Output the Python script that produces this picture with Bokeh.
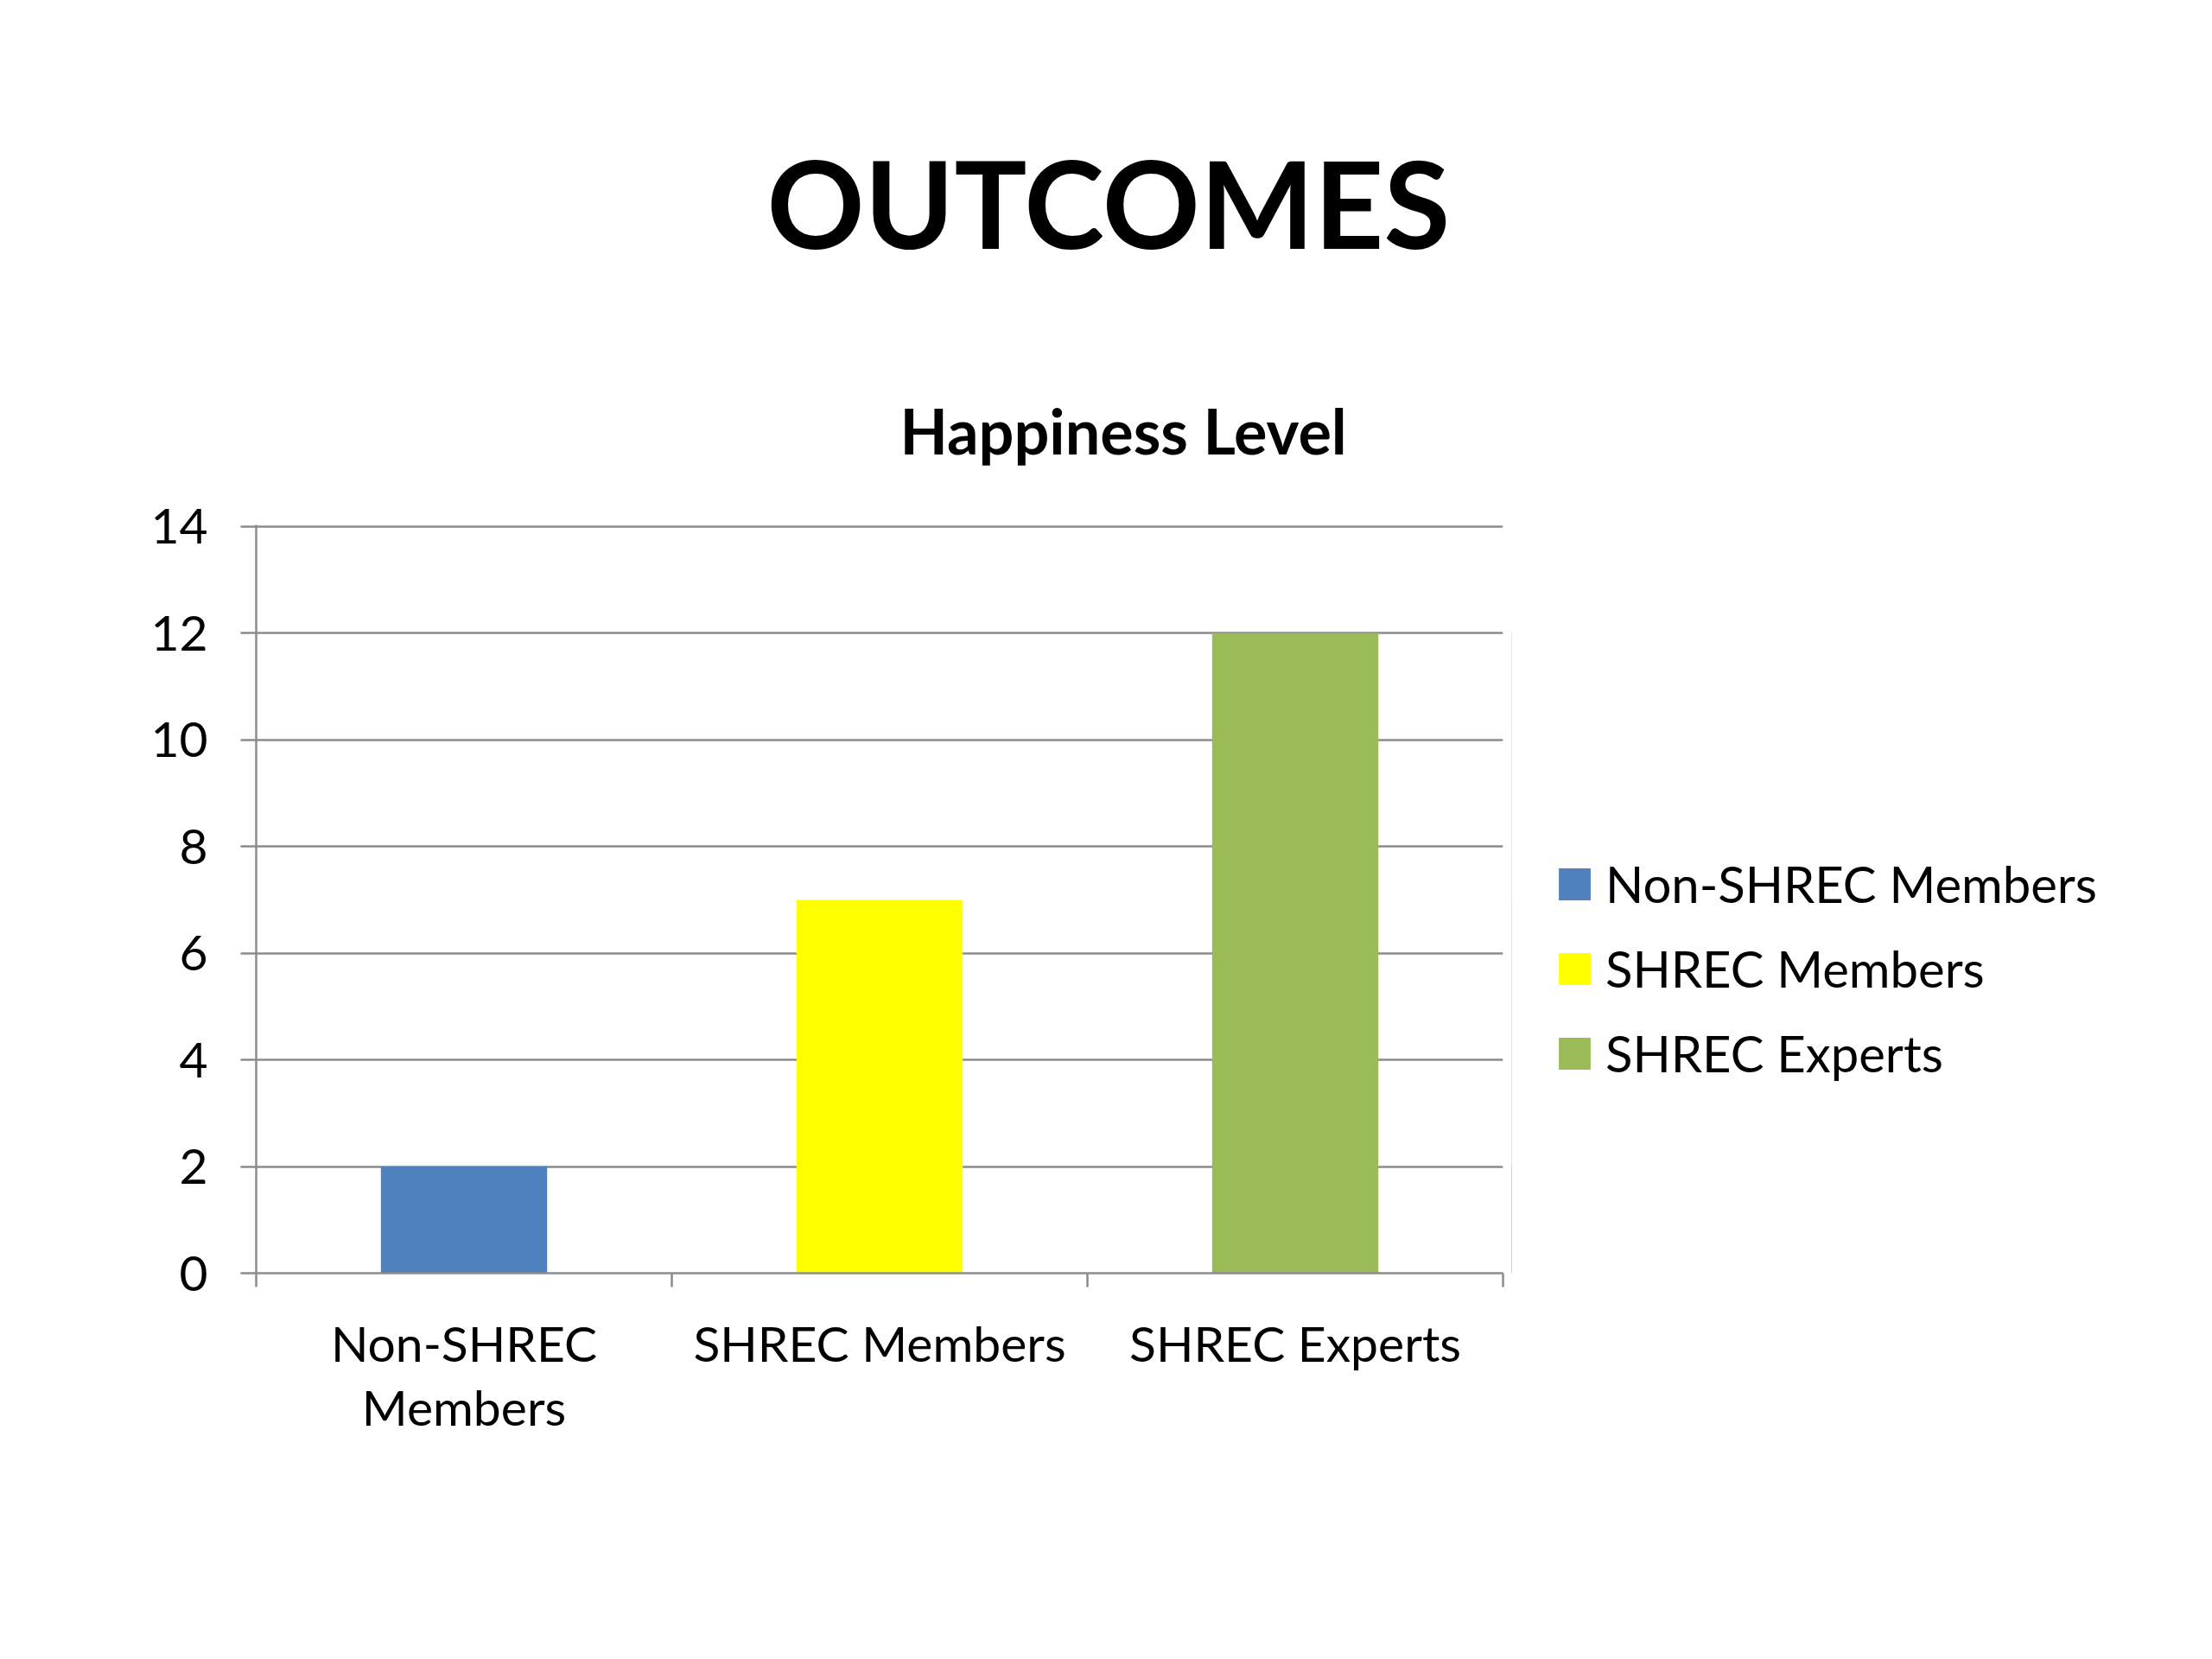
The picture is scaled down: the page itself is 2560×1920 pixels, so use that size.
from bokeh.plotting import figure
from bokeh.layouts import row
from bokeh.models import (ColumnDataSource, Range1d, LinearAxis, FixedTicker, Title)
from bokeh.embed import file_html
from bokeh.resources import INLINE

title_text = "OUTCOMES"
subtitle_text = "Happiness Level"
categories = ["Non-SHREC Members", "SHREC Members", "SHREC Experts"]
category_labels = ["Non-SHREC\nMembers", "SHREC Members", "SHREC Experts"]
happiness = [2, 7, 12]
bar_colors = ["#4F81BD", "#FFFF00", "#9BBB59"]
y_ticks = [0, 2, 4, 6, 8, 10, 12, 14]

FONT = "Lato"
GRID = "#8C8C8C"

n = len(categories)
centers = [i + 0.5 for i in range(n)]
boundaries = list(range(n + 1))

src = ColumnDataSource(dict(x=centers, cat=categories, val=happiness, color=bar_colors))

p = figure(width=1749, height=1904, output_backend="svg", toolbar_location=None,
           x_range=Range1d(0, n), y_range=Range1d(0, 14.03),
           x_axis_location=None, y_axis_location=None,
           min_border_left=296, min_border_right=10, min_border_top=607, min_border_bottom=431)
p.outline_line_color = None
p.background_fill_color = "white"

p.vbar(x="x", top="val", width=0.4, fill_color="color", line_color=None, source=src)

# y axis
yax = LinearAxis(ticker=FixedTicker(ticks=y_ticks))
yax.axis_line_color = GRID
yax.axis_line_width = 2.5
yax.major_tick_line_color = GRID
yax.major_tick_line_width = 2.5
yax.major_tick_in = 0
yax.major_tick_out = 18
yax.minor_tick_line_color = None
yax.major_label_standoff = 38
yax.major_label_text_font = FONT
yax.major_label_text_font_size = "57px"
yax.major_label_text_color = "black"
p.add_layout(yax, "left")

# boundary tick axis
bax = LinearAxis(ticker=FixedTicker(ticks=boundaries))
bax.axis_line_color = GRID
bax.axis_line_width = 2.5
bax.major_tick_line_color = GRID
bax.major_tick_line_width = 2.5
bax.major_tick_in = 0
bax.major_tick_out = 16
bax.minor_tick_line_color = None
bax.major_label_text_font_size = "0px"
bax.major_label_standoff = 0
p.add_layout(bax, "below")

# category label axis
cax = LinearAxis(ticker=FixedTicker(ticks=centers))
cax.axis_line_color = None
cax.major_tick_line_color = None
cax.minor_tick_line_color = None
cax.major_tick_out = 0
cax.major_tick_in = 0
cax.major_label_standoff = 30
cax.major_label_text_font = FONT
cax.major_label_text_font_size = "57px"
cax.major_label_text_color = "black"
cax.major_label_text_line_height = 1.1
cax.major_label_overrides = {c: lab for c, lab in zip(centers, category_labels)}
p.add_layout(cax, "below")

p.xgrid.grid_line_color = None
p.ygrid.ticker = FixedTicker(ticks=y_ticks)
p.ygrid.grid_line_color = GRID
p.ygrid.grid_line_width = 2.5

sub = Title(text=subtitle_text, text_font=FONT, text_font_style="bold", text_font_size="72px",
            text_color="black", align="left", offset=745, standoff=134)
main = Title(text=title_text, text_font=FONT, text_font_style="bold", text_font_size="140px",
             text_color="black", align="left", offset=591, standoff=136)
p.add_layout(sub, "above")
p.add_layout(main, "above")

# legend panel (its bars sit outside its visible range; only the legend shows)
lf = figure(width=795, height=1904, output_backend="svg", toolbar_location=None,
            x_range=Range1d(20.5, 21.5), y_range=Range1d(0, 14),
            x_axis_location=None, y_axis_location=None,
            min_border_left=0, min_border_right=0, min_border_top=0, min_border_bottom=0)
lf.outline_line_color = None
lf.xgrid.grid_line_color = None
lf.ygrid.grid_line_color = None
lf.grid.visible = False
lf.background_fill_color = "white"
lf.border_fill_color = "white"
lf.vbar(x="x", top="val", width=0.4, fill_color="color", line_color=None,
        legend_field="cat", source=src)

lg = lf.legend[0]
lg.location = (50, 220)
lg.border_line_color = None
lg.background_fill_alpha = 0
lg.padding = 0
lg.margin = 0
lg.glyph_width = 46
lg.glyph_height = 46
lg.label_standoff = 13
lg.label_text_font = FONT
lg.label_text_font_size = "58px"
lg.label_text_color = "black"
lg.spacing = 29

layout = row(p, lf)
open("out.html", "w").write(file_html(layout, INLINE))
